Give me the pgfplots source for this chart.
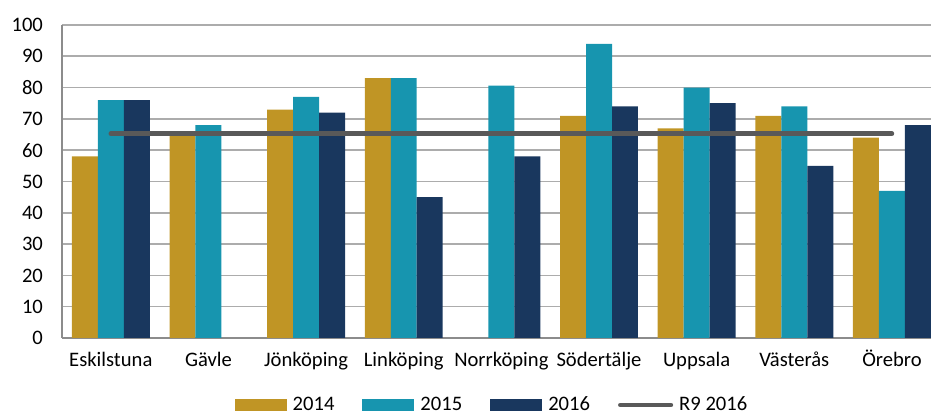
\documentclass[border=0pt]{standalone}
\usepackage{fontspec}
\setmainfont{Carlito}
\usepackage{pgfplots}
\pgfplotsset{compat=1.18}
\definecolor{c2014}{HTML}{C09525}
\definecolor{c2015}{HTML}{1795AF}
\definecolor{c2016}{HTML}{19375E}
\definecolor{cr9}{HTML}{595959}
\begin{document}
\begin{tikzpicture}
\begin{axis}[
  at={(0,0)}, anchor=south west,
  scale only axis,
  width=434.5pt, height=156.5pt,
  ybar=0pt,
  bar width=0.266,
  xmin=-0.5, xmax=8.4,
  ymin=0, ymax=100,
  ytick={0,10,...,100},
  xtick={0,...,8},
  xticklabels={Eskilstuna,Gävle,Jönköping,Linköping,Norrköping,Södertälje,Uppsala,Västerås,Örebro},
  axis lines*=left,
  axis line style={color=gray!90, line width=0.8pt},
  major tick length=0pt,
  ymajorgrids,
  grid style={color=gray!65, line width=0.8pt},
  tick label style={font=\fontsize{10.3}{12}\selectfont, text=black},
  /pgf/number format/assume math mode=true,
  x tick label style={anchor=base, yshift=-14pt},
  y tick label style={xshift=-6pt},
  legend style={at={(215.5pt,-33.5pt)}, anchor=center, draw=none,
    legend columns=4, font=\fontsize{10.3}{12}\selectfont,
    inner sep=0pt,
    /tikz/every odd column/.append style={column sep=1pt},
    /tikz/every even column/.append style={column sep=12pt}},
  legend cell align=left,
]
\addplot[fill=c2014, draw=none, bar shift=-0.266,
  legend image code/.code={\fill[c2014] (0pt,-2.8pt) rectangle (26pt,2.8pt);}]
  coordinates {(0,58) (1,65) (2,73) (3,83) (5,71) (6,67) (7,71) (8,64)};
\addlegendentry{2014}
\addplot[fill=c2015, draw=none, bar shift=0,
  legend image code/.code={\fill[c2015] (0pt,-2.8pt) rectangle (26pt,2.8pt);}]
  coordinates {(0,76) (1,68) (2,77) (3,83) (4,80.6) (5,94) (6,80) (7,74) (8,47)};
\addlegendentry{2015}
\addplot[fill=c2016, draw=none, bar shift=0.266,
  legend image code/.code={\fill[c2016] (0pt,-2.8pt) rectangle (26pt,2.8pt);}]
  coordinates {(0,76) (2,72) (3,45) (4,58) (5,74) (6,75) (7,55) (8,68)};
\addlegendentry{2016}
\addplot[sharp plot, color=cr9, line width=2.3pt, line cap=round, mark=none,
  legend image code/.code={\draw[cr9, line width=2.3pt, line cap=round] (1.2pt,0pt) -- (26.5pt,0pt);}]
  coordinates {(0,65.3) (8,65.3)};
\addlegendentry{R9 2016}
\end{axis}
\pgfresetboundingbox
\path (-31pt,-39.5pt) rectangle (434.5pt,169pt);
\end{tikzpicture}
\end{document}
